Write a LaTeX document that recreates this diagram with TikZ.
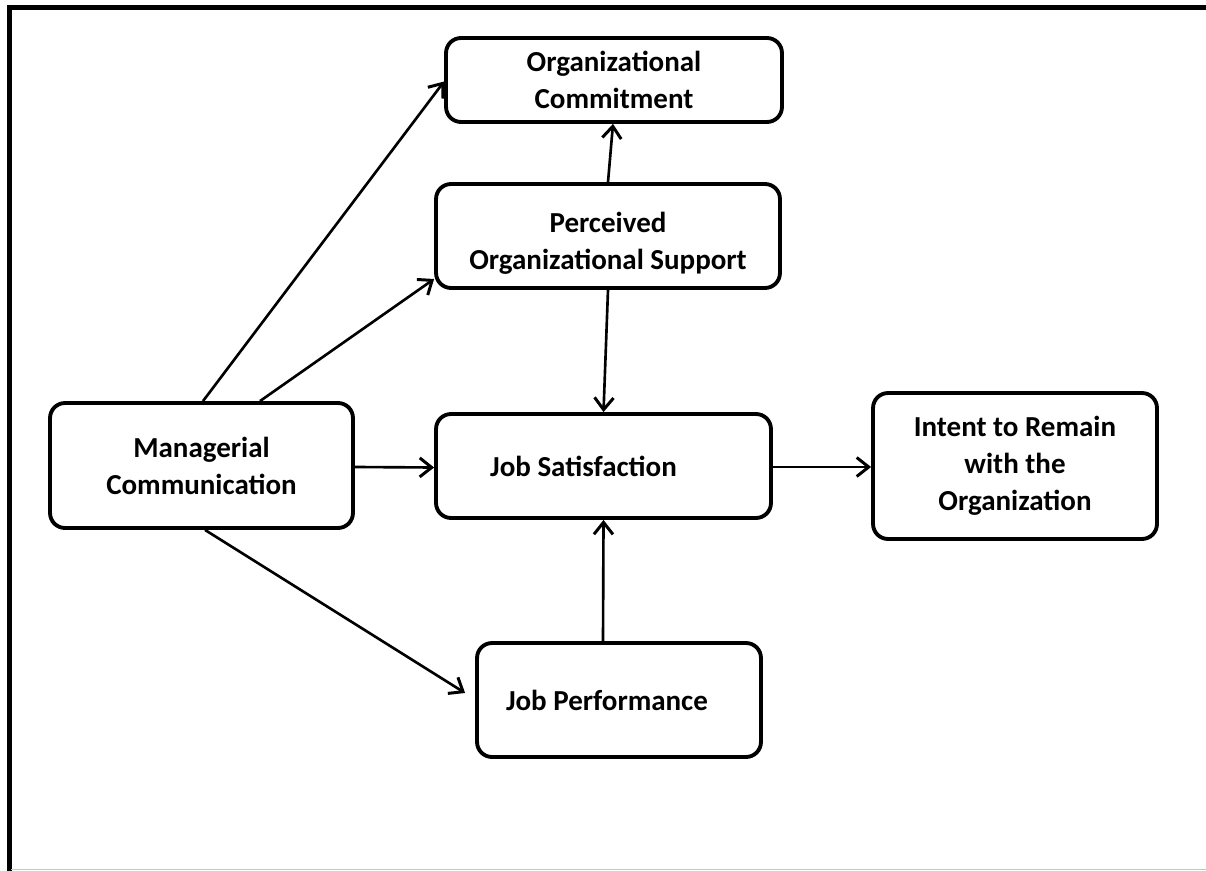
\documentclass[tikz,border=0pt]{standalone}
\usepackage{fontspec}
\setmainfont{Carlito}
\usetikzlibrary{arrows.meta}
\begin{document}
\begin{tikzpicture}[x=0.02cm,y=-0.02cm,
  box/.style={draw, line width=2.2pt, rounded corners=0.3cm, align=center,
    font=\bfseries\fontsize{16.5}{21}\selectfont, inner sep=0pt},
  link/.style={line width=1.5pt, -{Straight Barb[length=2.4mm,width=3.8mm,line width=1.7pt]}}]
\useasboundingbox (0,0) rectangle (1206,871);
\fill[white] (0,0) rectangle (1206,871);
% page frame
\draw[line width=2.4pt] (9.5,871) -- (9.5,7.5) -- (1206,7.5);
\draw[gray!45, line width=0.6pt] (11,869.5) -- (1206,869.5);

% boxes
\node[box, minimum width=6.72cm, minimum height=1.68cm] (oc) at (614,80)
  {Organizational\\Commitment};
\node[box, minimum width=6.88cm, minimum height=2.08cm] (pos) at (608,236)
  {\rule{0pt}{0.7cm}Perceived\\Organizational Support};
\node[box, minimum width=6.06cm, minimum height=2.5cm] (mc) at (201.5,465.5)
  {Managerial\\Communication};
\node[box, minimum width=6.7cm, minimum height=2.08cm] (js) at (603.5,466)
  {Job Satisfaction\hspace*{0.8cm}};
\node[box, minimum width=5.68cm, minimum height=2.92cm] (ir) at (1015,466)
  {Intent to Remain\\with the\\Organization};
\node[box, minimum width=5.68cm, minimum height=2.28cm] (jp) at (619,700)
  {Job Performance\hspace*{0.48cm}};

% connectors
\draw[link] ([xshift=0.03cm]mc.north) -- ([yshift=-0.03cm]oc.west);
\draw[link] ([xshift=1.17cm]mc.north) -- ([yshift=-0.86cm]pos.west);
\draw[link] ([yshift=-0.03cm]mc.east) -- ([yshift=-0.03cm]js.west);
\draw[link] ([xshift=0.07cm]mc.south) -- ([xshift=-0.2cm,yshift=0.14cm]jp.west);
\draw[link] (pos.north) -- ([xshift=-0.02cm]oc.south);
\draw[link] (pos.south) -- (js.north);
\draw[link] ([xshift=-0.32cm]jp.north) -- (js.south);
\draw[link] ([yshift=-0.02cm]js.east) -- ([yshift=-0.02cm]ir.west);
\end{tikzpicture}
\end{document}
